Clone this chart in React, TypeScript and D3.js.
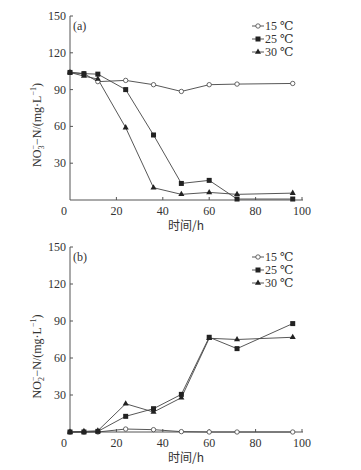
import React, { useEffect, useRef } from "react";
import * as d3 from "d3";

const hours = [0, 6, 12, 24, 36, 48, 60, 72, 96];
const seriesNames = ["15 ℃", "25 ℃", "30 ℃"];

// (a) NO3- -N
const no3_15 = [104, 103, 96.5, 97.5, 94, 88.5, 94, 94.5, 95];
const no3_25 = [104, 103, 102.6, 90, 53, 13.5, 16, 0.8, 0.8];
const no3_30 = [104, 101, 98.6, 59, 10, 4.6, 6.2, 4.6, 5.6];

// (b) NO2- -N
const no2_15 = [0, 0, 0, 2.4, 1.9, 0.3, 0, 0, 0];
const no2_25 = [0, 0, 0.5, 12.7, 18.9, 30.5, 76.8, 67.6, 87.9];
const no2_30 = [0, 0.5, 1, 22.9, 16.2, 27.8, 76, 75, 76.8];

const xTicks = [20, 40, 60, 80, 100];
const yTicks = [30, 60, 90, 120, 150];

const FONT = "'Liberation Serif', 'DejaVu Serif', serif";
const INK = "#333";

const App: React.FC = () => {
  const ref = useRef<SVGSVGElement>(null);

  useEffect(() => {
    const svg = d3.select(ref.current);
    svg.selectAll("*").remove();

    const panels = [
      { tag: "(a)", ion: "3", top: 16, bottom: 200, data: [no3_15, no3_25, no3_30] },
      { tag: "(b)", ion: "2", top: 247, bottom: 432, data: [no2_15, no2_25, no2_30] },
    ];

    panels.forEach((p) => {
      const x = d3.scaleLinear().domain([0, 100]).range([70, 302]);
      const y = d3.scaleLinear().domain([0, 150]).range([p.bottom, p.top]);
      const g = svg.append("g");

      // axes
      g.append("line")
        .attr("x1", x(0)).attr("x2", x(100) + 1)
        .attr("y1", y(0)).attr("y2", y(0))
        .attr("stroke", "#555").attr("stroke-width", 1);
      g.append("line")
        .attr("x1", x(0)).attr("x2", x(0))
        .attr("y1", y(0)).attr("y2", y(150))
        .attr("stroke", "#555").attr("stroke-width", 1);

      xTicks.forEach((t) => {
        g.append("line")
          .attr("x1", x(t)).attr("x2", x(t))
          .attr("y1", y(0)).attr("y2", y(0) - 3)
          .attr("stroke", "#555");
        g.append("text")
          .attr("x", x(t)).attr("y", y(0) + 15)
          .attr("text-anchor", "middle")
          .attr("font-family", FONT).attr("font-size", 12).attr("fill", INK)
          .text(t);
      });
      g.append("text")
        .attr("x", x(0) - 6).attr("y", y(0) + 15)
        .attr("text-anchor", "middle")
        .attr("font-family", FONT).attr("font-size", 12).attr("fill", INK)
        .text("0");

      yTicks.forEach((t) => {
        g.append("line")
          .attr("x1", x(0)).attr("x2", x(0) + 3)
          .attr("y1", y(t)).attr("y2", y(t))
          .attr("stroke", "#555");
        g.append("text")
          .attr("x", x(0) - 4).attr("y", y(t) + 4)
          .attr("text-anchor", "end")
          .attr("font-family", FONT).attr("font-size", 12).attr("fill", INK)
          .text(t);
      });

      // x title
      g.append("text")
        .attr("x", (x(0) + x(100)) / 2).attr("y", y(0) + 30)
        .attr("text-anchor", "middle")
        .attr("font-family", "'Noto Sans CJK SC', " + FONT).attr("font-size", 12).attr("fill", INK)
        .text("时间/h");

      // y title
      const cy = (y(0) + y(150)) / 2 + 17;
      const yt = g.append("text")
        .attr("transform", `translate(41,${cy}) rotate(-90)`)
        .attr("text-anchor", "middle")
        .attr("font-family", FONT).attr("font-size", 12).attr("fill", INK);
      yt.append("tspan").text("NO");
      yt.append("tspan").attr("font-size", 8).attr("dy", 3).text(p.ion);
      yt.append("tspan").attr("font-size", 8).attr("dy", -8).attr("dx", -4).text("−");
      yt.append("tspan").attr("dy", 5).text("−N/(mg·L");
      yt.append("tspan").attr("font-size", 8).attr("dy", -5).text("−1");
      yt.append("tspan").attr("dy", 5).text(")");

      // panel tag
      g.append("text")
        .attr("x", 73).attr("y", p.top + 14)
        .attr("font-family", FONT).attr("font-size", 12).attr("fill", INK)
        .text(p.tag);

      const line = d3.line<number>()
        .x((_d, i) => x(hours[i]))
        .y((d) => y(d));

      p.data.forEach((vals, si) => {
        g.append("path")
          .datum(vals)
          .attr("d", line)
          .attr("fill", "none")
          .attr("stroke", "#444")
          .attr("stroke-width", 0.9);
      });

      const drawMarker = (sel: d3.Selection<SVGGElement, unknown, null, undefined>, si: number, cx: number, cyy: number) => {
        if (si === 0) {
          sel.append("circle").attr("cx", cx).attr("cy", cyy).attr("r", 2.2)
            .attr("fill", "#fff").attr("stroke", "#444").attr("stroke-width", 0.8);
        } else if (si === 1) {
          sel.append("rect").attr("x", cx - 2.5).attr("y", cyy - 2.5)
            .attr("width", 5).attr("height", 5).attr("fill", "#222");
        } else {
          sel.append("path")
            .attr("d", d3.symbol(d3.symbolTriangle, 16)())
            .attr("transform", `translate(${cx},${cyy})`)
            .attr("fill", "#222");
        }
      };

      // markers drawn: circles first, then squares, then triangles
      p.data.forEach((vals, si) => {
        vals.forEach((v, i) => drawMarker(g as any, si, x(hours[i]), y(v)));
      });

      // legend
      seriesNames.forEach((name, si) => {
        const ly = p.top + 10 + si * 13;
        g.append("line")
          .attr("x1", 252).attr("x2", 264)
          .attr("y1", ly).attr("y2", ly)
          .attr("stroke", "#444").attr("stroke-width", 0.9);
        drawMarker(g as any, si, 258, ly);
        g.append("text")
          .attr("x", 265).attr("y", ly + 4)
          .attr("font-family", FONT).attr("font-size", 12).attr("fill", INK)
          .text(name);
      });
    });
  }, []);

  return (
    <svg
      ref={ref}
      width={361}
      height={470}
      style={{ position: "absolute", left: 0, top: 0, background: "#fff" }}
    />
  );
};

export default App;
